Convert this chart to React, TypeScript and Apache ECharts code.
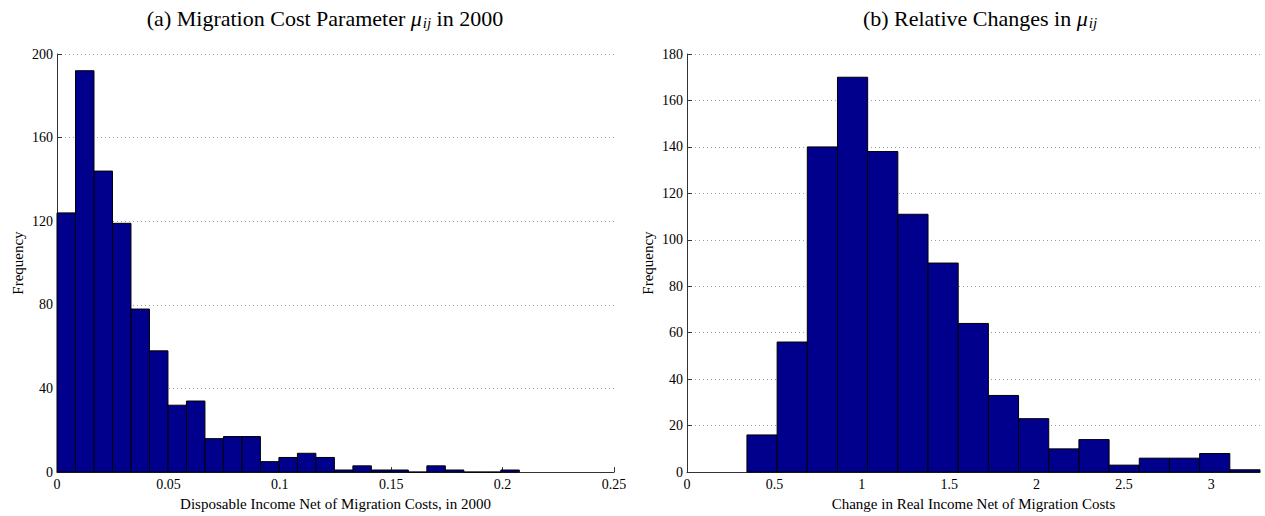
import React, { useEffect, useRef } from "react";
import * as echarts from "echarts";

// Panel (a): histogram of the migration cost parameter in 2000
const leftBinStart = 0;
const leftBinWidth = 0.0083;
const leftCounts = [124, 192, 144, 119, 78, 58, 32, 34, 16, 17, 17, 5, 7, 9, 7, 1, 3, 1, 1, 0, 3, 1, 0, 0, 1];
const leftXTicks = [0, 0.05, 0.1, 0.15, 0.2, 0.25];
const leftYTicks = [0, 40, 80, 120, 160, 200];

// Panel (b): histogram of relative changes
const rightBinStart = 0.343;
const rightBinWidth = 0.1727;
const rightCounts = [16, 56, 140, 170, 138, 111, 90, 64, 33, 23, 10, 14, 3, 6, 6, 8, 1];
const rightXTicks = [0, 0.5, 1, 1.5, 2, 2.5, 3];
const rightYTicks = [0, 20, 40, 60, 80, 100, 120, 140, 160, 180];

const FONT = "'Liberation Serif', 'Times New Roman', serif";
const BAR_FILL = "#00008c";

function toBins(start: number, width: number, counts: number[]) {
  return counts.map((c, i) => [start + i * width, start + (i + 1) * width, c]);
}

function histRender(params: any, api: any) {
  const p0 = api.coord([api.value(0), 0]);
  const p1 = api.coord([api.value(1), api.value(2)]);
  return {
    type: "rect",
    shape: { x: p0[0], y: p1[1], width: p1[0] - p0[0], height: p0[1] - p1[1] },
    style: { fill: BAR_FILL, stroke: "#000", lineWidth: 1 },
  };
}

function xAxisFor(gridIndex: number, max: number, ticks: number[], name: string) {
  return {
    type: "value",
    gridIndex,
    min: 0,
    max,
    name,
    nameLocation: "middle",
    nameGap: 18,
    nameTextStyle: { fontFamily: FONT, fontSize: 15, color: "#000" },
    axisLine: { show: true, onZero: false, lineStyle: { color: "#333", width: 1 } },
    axisTick: { show: true, inside: true, length: 5, customValues: ticks, lineStyle: { color: "#333" } },
    axisLabel: {
      customValues: ticks,
      fontFamily: FONT,
      fontSize: 14,
      color: "#000",
      margin: 5,
      formatter: (v: number) => String(v),
    },
    splitLine: { show: false },
  };
}

function yAxisFor(gridIndex: number, max: number, ticks: number[]) {
  return {
    type: "value",
    gridIndex,
    min: 0,
    max,
    name: "Frequency",
    nameLocation: "middle",
    nameGap: 32,
    nameTextStyle: { fontFamily: FONT, fontSize: 15, color: "#000" },
    axisLine: { show: true, lineStyle: { color: "#333", width: 1 } },
    axisTick: { show: true, inside: true, length: 5, customValues: ticks, lineStyle: { color: "#333" } },
    axisLabel: { customValues: ticks, fontFamily: FONT, fontSize: 14, color: "#000", margin: 4 },
    splitLine: { show: true, lineStyle: { color: "#a0a0a0", type: [1, 3], width: 1 } },
  };
}

const titleRich = {
  t: { fontFamily: FONT, fontSize: 22, fontWeight: "normal", color: "#000" },
  m: { fontFamily: FONT, fontSize: 22, fontWeight: "normal", fontStyle: "italic", color: "#000" },
  s: {
    fontFamily: FONT,
    fontSize: 15,
    fontWeight: "normal",
    fontStyle: "italic",
    color: "#000",
    verticalAlign: "bottom",
    padding: [9, 0, 0, 1],
  },
};

export default function App() {
  const ref = useRef<HTMLDivElement>(null);

  useEffect(() => {
    document.body.style.margin = "0";
    if (!ref.current) return;
    const chart = echarts.init(ref.current, null, { renderer: "svg" });
    chart.setOption({
      animation: false,
      backgroundColor: "#fff",
      title: [
        {
          text: "{t|(a) Migration Cost Parameter }{m|μ}{s|ij}{t| in 2000}",
          left: 320,
          top: 1,
          textAlign: "center",
          textStyle: { fontWeight: "normal", rich: titleRich },
        },
        {
          text: "{t|(b) Relative Changes in }{m|μ}{s|ij}",
          left: 975,
          top: 1,
          textAlign: "center",
          textStyle: { fontWeight: "normal", rich: titleRich },
        },
      ],
      grid: [
        { left: 57, top: 54, width: 557, height: 422 },
        { left: 687, top: 54, width: 573, height: 422 },
      ],
      xAxis: [
        xAxisFor(0, 0.25, leftXTicks, "Disposable Income Net of Migration Costs, in 2000"),
        xAxisFor(1, rightBinStart + rightBinWidth * rightCounts.length, rightXTicks, "Change in Real Income Net of Migration Costs"),
      ],
      yAxis: [yAxisFor(0, 200, leftYTicks), yAxisFor(1, 180, rightYTicks)],
      series: [
        {
          type: "custom",
          xAxisIndex: 0,
          yAxisIndex: 0,
          renderItem: histRender,
          encode: { x: [0, 1], y: 2 },
          data: toBins(leftBinStart, leftBinWidth, leftCounts),
        },
        {
          type: "custom",
          xAxisIndex: 1,
          yAxisIndex: 1,
          renderItem: histRender,
          encode: { x: [0, 1], y: 2 },
          data: toBins(rightBinStart, rightBinWidth, rightCounts),
        },
      ],
    });
    return () => chart.dispose();
  }, []);

  return <div ref={ref} style={{ width: 1265, height: 516 }} />;
}
